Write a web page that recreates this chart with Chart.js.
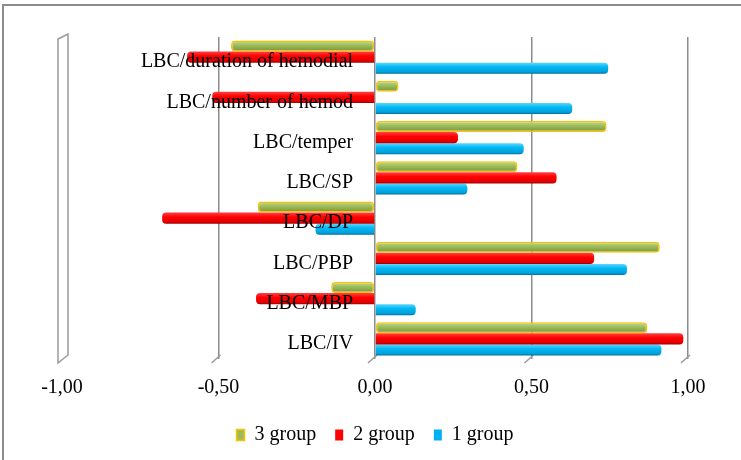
<!DOCTYPE html>
<html>
<head>
<meta charset="utf-8">
<script src="https://cdn.jsdelivr.net/npm/chart.js@4.4.0/dist/chart.umd.min.js"></script>
<style>
  body { margin: 0; background: #fff; }
  #wrap { position: relative; width: 741px; height: 460px; }
  #frame { position: absolute; left: 2px; top: 4px; right: -10px; bottom: -10px; border-left: 2px solid #8c8c8c; border-top: 2px solid #8c8c8c; pointer-events: none; }
</style>
</head>
<body>
<div id="wrap">
  <canvas id="myChart"></canvas>
  <div id="frame"></div>
</div>
<script>
// categories, top to bottom
const categories = ['LBC/duration of hemodial', 'LBC/number of hemod', 'LBC/temper', 'LBC/SP', 'LBC/DP', 'LBC/PBP', 'LBC/MBP', 'LBC/IV'];
const group3 = [-0.46, 0.075, 0.74, 0.455, -0.375, 0.91, -0.14, 0.87];
const group2 = [-0.60, -0.52, 0.265, 0.58, -0.68, 0.70, -0.38, 0.985];
const group1 = [0.745, 0.63, 0.475, 0.295, -0.19, 0.805, 0.13, 0.915];
const xTicks = [-1, -0.5, 0, 0.5, 1];

const catPct = 0.82;
const font = { family: '"Liberation Serif", "Times New Roman", serif', size: 20 };
const flat = ['#9bbb59', '#ff0000', '#00b0f0'];

// cylinder look: vertical gradient across each bar
function tube(stops, fallback) {
  return function(c) {
    const chart = c.chart;
    const ys = chart.scales.y;
    if (c.type !== 'data' || !ys || !chart.chartArea) return fallback;
    const step = ys.getPixelForValue(1) - ys.getPixelForValue(0);
    const groupH = step * catPct;
    const barH = groupH / 3;
    const top = ys.getPixelForValue(c.dataIndex) - groupH / 2 + c.datasetIndex * barH;
    const g = chart.ctx.createLinearGradient(0, top, 0, top + barH);
    stops.forEach(s => g.addColorStop(s[0], s[1]));
    return g;
  };
}

// 3d wall + little depth lines at the bottom of the grid
const wallPlugin = {
  id: 'wall',
  beforeDatasetsDraw(chart) {
    const ctx = chart.ctx, a = chart.chartArea, x = chart.scales.x;
    ctx.save();
    ctx.strokeStyle = '#9a9a9a';
    ctx.lineWidth = 1.5;
    xTicks.slice(1).forEach(v => {
      const px = x.getPixelForValue(v);
      ctx.beginPath();
      ctx.moveTo(px + 2, a.bottom - 4);
      ctx.lineTo(px - 7, a.bottom + 4);
      ctx.stroke();
    });
    const L = x.getPixelForValue(-1);
    ctx.beginPath();
    ctx.moveTo(L - 4, a.top + 2);
    ctx.lineTo(L + 6, a.top - 3);
    ctx.lineTo(L + 6, a.bottom - 4);
    ctx.lineTo(L - 4, a.bottom + 4);
    ctx.closePath();
    ctx.fillStyle = '#fff';
    ctx.fill();
    ctx.stroke();
    ctx.restore();
  }
};

const ctx = document.getElementById('myChart').getContext('2d');
const myChart = new Chart(ctx, {
  type: 'bar',
  data: {
    labels: categories,
    datasets: [{
      label: '3 group',
      data: group3,
      backgroundColor: tube([[0, '#c2dc8e'], [0.45, '#9bbb59'], [0.85, '#7f9c44'], [1, '#5f7830']], flat[0]),
      borderColor: '#ffc000',
      borderWidth: 1.5,
      borderSkipped: false,
      borderRadius: 4
    }, {
      label: '2 group',
      data: group2,
      backgroundColor: tube([[0, '#ff4040'], [0.4, '#ff0000'], [0.85, '#e00000'], [1, '#a00000']], flat[1]),
      borderWidth: 0,
      borderRadius: 4
    }, {
      label: '1 group',
      data: group1,
      backgroundColor: tube([[0, '#5fd6ff'], [0.4, '#00b8f2'], [0.85, '#00a0dc'], [1, '#006f9e']], flat[2]),
      borderWidth: 0,
      borderRadius: 4
    }]
  },
  options: {
    indexAxis: 'y',
    responsive: true,
    maintainAspectRatio: false,
    animation: false,
    layout: { padding: { left: 62, right: 53, top: 37, bottom: 5 } },
    datasets: { bar: { categoryPercentage: catPct, barPercentage: 1.0 } },
    scales: {
      x: {
        min: -1,
        max: 1,
        afterFit(scale) { scale.height = 47; },
        afterBuildTicks(scale) { scale.ticks = xTicks.map(v => ({ value: v })); },
        ticks: {
          padding: 17,
          color: '#000',
          font: font,
          callback: v => v.toFixed(2).replace('.', ',')
        },
        grid: {
          drawTicks: false,
          lineWidth: 1.5,
          color: c => (c.tick && c.tick.value === -1) ? 'rgba(0,0,0,0)' : '#8c8c8c'
        },
        border: { display: false }
      },
      y: {
        // labels sit just left of the zero line, over the bars
        position: { x: -0.07 },
        grid: { display: false },
        border: { display: false },
        ticks: { color: '#000', font: font, z: 1, labelOffset: 5 }
      }
    },
    plugins: {
      legend: {
        position: 'bottom',
        labels: {
          color: '#000', font: font, boxWidth: 8, boxHeight: 11, padding: 19,
          generateLabels(chart) {
            const items = Chart.defaults.plugins.legend.labels.generateLabels(chart);
            items.forEach((it, i) => { it.fillStyle = flat[i]; });
            return items;
          }
        }
      },
      tooltip: { enabled: false }
    }
  },
  plugins: [wallPlugin]
});
</script>
</body>
</html>
